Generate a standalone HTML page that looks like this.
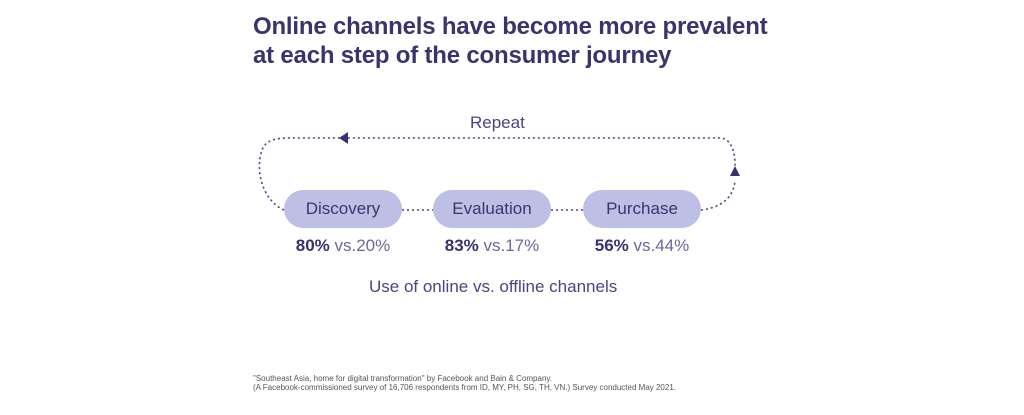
<!DOCTYPE html>
<html><head><meta charset="utf-8"><style>
body{margin:0;width:1024px;height:415px;background:#fff;overflow:hidden;font-family:"Liberation Sans",sans-serif;color:#38326b;position:relative}
.t{position:absolute;left:253px;top:12px;font-size:24px;line-height:29px;font-weight:bold;color:#3a346d;letter-spacing:-0.2px}
.p{position:absolute;top:190px;height:38px;width:118px;border-radius:19px;background:#bdc0e4;font-size:17px;line-height:38px;text-align:center;color:#3a3470}
.v{position:absolute;top:236px;font-size:17px;width:150px;text-align:center;color:#6b6898}
.v b{color:#38326b}
.a{position:absolute;font-size:17px;color:#4a4580}
.f{position:absolute;left:253px;font-size:8px;color:#555}
</style></head><body>
<div class="t">Online channels have become more prevalent<br>at each step of the consumer journey</div>
<svg width="1024" height="415" style="position:absolute;left:0;top:0">
<g fill="none" stroke="#4a4580" stroke-width="1.6" stroke-dasharray="2,3">
<path d="M284,210 C262,200 255,170 262,150 C266,140 275,138 290,138 L720,138 C730,138 736,150 735,170"/>
<path d="M701,210 C720,208 734,198 735,180"/>
<path d="M402,210 L433,210 M551,210 L583,210"/>
</g>
<polygon points="348,132 348,144 339,138" fill="#38326b"/>
<polygon points="735,166 730,176 740,176" fill="#38326b"/>
</svg>
<div class="a" style="left:470px;top:113px">Repeat</div>
<div class="p" style="left:284px">Discovery</div>
<div class="p" style="left:433px">Evaluation</div>
<div class="p" style="left:583px">Purchase</div>
<div class="v" style="left:268px"><b>80%</b> vs.20%</div>
<div class="v" style="left:417px"><b>83%</b> vs.17%</div>
<div class="v" style="left:567px"><b>56%</b> vs.44%</div>
<div class="a" style="left:369px;top:277px">Use of online vs. offline channels</div>
<div class="f" style="top:374px">"Southeast Asia, home for digital transformation" by Facebook and Bain &amp; Company.</div>
<div class="f" style="top:383px">(A Facebook-commissioned survey of 16,706 respondents from ID, MY, PH, SG, TH, VN.) Survey conducted May 2021.</div>
</body></html>
